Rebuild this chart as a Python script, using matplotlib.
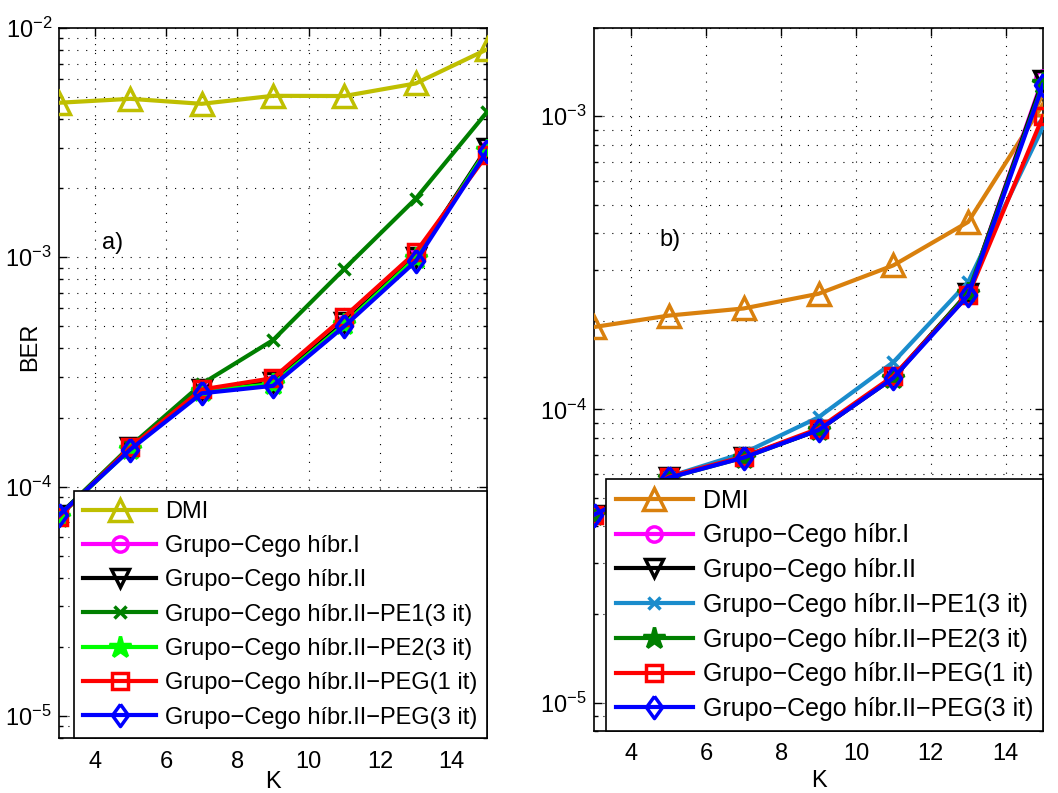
import numpy as np
import matplotlib
matplotlib.use("Agg")
import matplotlib.pyplot as plt
from matplotlib.ticker import LogLocator, NullFormatter, FixedLocator

plt.rcParams['font.family'] = ['Liberation Sans', 'DejaVu Sans']
plt.rcParams['mathtext.fontset'] = 'custom'
plt.rcParams['mathtext.rm'] = 'Liberation Sans'

K = [3, 5, 7, 9, 11, 13, 15]

labels = ['DMI', 'Grupo−Cego híbr.I', 'Grupo−Cego híbr.II',
          'Grupo−Cego híbr.II−PE1(3 it)', 'Grupo−Cego híbr.II−PE2(3 it)',
          'Grupo−Cego híbr.II−PEG(1 it)', 'Grupo−Cego híbr.II−PEG(3 it)']

# panel a)
a_dmi   = [4.72e-3, 4.91e-3, 4.67e-3, 5.06e-3, 5.05e-3, 5.73e-3, 8.07e-3]
a_hib1  = [7.5e-5, 1.47e-4, 2.60e-4, 2.80e-4, 5.10e-4, 1.00e-3, 2.95e-3]
a_hib2  = [7.5e-5, 1.48e-4, 2.65e-4, 2.85e-4, 5.20e-4, 1.00e-3, 3.00e-3]
a_pe1   = [7.5e-5, 1.50e-4, 2.80e-4, 4.35e-4, 8.90e-4, 1.80e-3, 4.30e-3]
a_pe2   = [7.4e-5, 1.46e-4, 2.60e-4, 2.80e-4, 5.10e-4, 9.90e-4, 2.95e-3]
a_peg1  = [7.4e-5, 1.48e-4, 2.65e-4, 2.97e-4, 5.50e-4, 1.05e-3, 2.80e-3]
a_peg3  = [7.5e-5, 1.45e-4, 2.55e-4, 2.75e-4, 5.00e-4, 9.60e-4, 2.90e-3]

# panel b)
b_dmi   = [1.91e-4, 2.09e-4, 2.21e-4, 2.48e-4, 3.10e-4, 4.36e-4, 1.10e-3]
b_hib1  = [4.37e-5, 5.90e-5, 6.90e-5, 8.50e-5, 1.28e-4, 2.50e-4, 1.35e-3]
b_hib2  = [4.37e-5, 5.90e-5, 6.90e-5, 8.50e-5, 1.29e-4, 2.50e-4, 1.33e-3]
b_pe1   = [4.37e-5, 5.90e-5, 7.10e-5, 9.40e-5, 1.45e-4, 2.72e-4, 9.20e-4]
b_pe2   = [4.35e-5, 5.85e-5, 6.85e-5, 8.50e-5, 1.28e-4, 2.50e-4, 1.30e-3]
b_peg1  = [4.37e-5, 5.90e-5, 6.90e-5, 8.60e-5, 1.30e-4, 2.45e-4, 1.00e-3]
b_peg3  = [4.37e-5, 5.85e-5, 6.85e-5, 8.50e-5, 1.28e-4, 2.45e-4, 1.28e-3]

diamond = [(0, 1), (0.72, 0), (0, -1), (-0.72, 0), (0, 1)]
markers = ['^', 'o', 'v', 'x', '*', 's', diamond]
colors_a = ['#BFBF00', '#FF00FF', '#000000', '#007F00', '#00FF00', '#FF0000', '#0000FF']
colors_b = ['#D9800D', '#FF00FF', '#000000', '#1A8CCC', '#007F00', '#FF0000', '#0000FF']
msizes = [16, 11, 13, 9, 16, 11, 16]

fig = plt.figure(figsize=(10.58, 7.93), dpi=100)
axa = fig.add_axes([59/1058, 1-738/793, (487-59)/1058, (738-28)/793])
axb = fig.add_axes([594/1058, 1-731/793, (1043-594)/1058, (731-28)/793])

FS = 17

def setup(ax, series, colors, ylim, lfs, lspace, hlen):
    for i, (y, lab) in enumerate(zip(series, labels)):
        mfc = colors[i] if markers[i] == '*' else 'none'
        ax.plot(K, y, color=colors[i], lw=3, marker=markers[i], ms=msizes[i],
                mfc=mfc, mec=colors[i], mew=2.5, label=lab, zorder=3)
    ax.set_yscale('log')
    ax.set_xlim(3, 15)
    ax.set_ylim(*ylim)
    ax.xaxis.set_major_locator(FixedLocator([4, 6, 8, 10, 12, 14]))
    ax.yaxis.set_major_locator(LogLocator(base=10, numticks=10))
    ax.yaxis.set_minor_locator(LogLocator(base=10, subs=np.arange(2, 10), numticks=10))
    ax.yaxis.set_minor_formatter(NullFormatter())
    ax.tick_params(which='both', direction='in', top=True, right=True,
                   labelsize=FS, width=1)
    ax.tick_params(axis='x', pad=9)
    ax.tick_params(axis='y', pad=5)
    ax.tick_params(which='major', length=6)
    ax.tick_params(which='minor', length=3)
    ax.grid(True, which='major', axis='x', color='k', ls=(0, (1, 7)), lw=0.8)
    ax.grid(True, which='both', axis='y', color='k', ls=(0, (1, 7)), lw=0.8)
    ax.set_axisbelow(True)
    for s in ax.spines.values():
        s.set_linewidth(1.2)
    leg = ax.legend(loc='lower right', bbox_to_anchor=(1, 0), fontsize=lfs,
                    fancybox=False, framealpha=1, edgecolor='k', handlelength=hlen,
                    handletextpad=0.38, labelspacing=lspace, borderpad=0.4,
                    borderaxespad=0)
    leg.get_frame().set_linewidth(1.2)

setup(axa, [a_dmi, a_hib1, a_hib2, a_pe1, a_pe2, a_peg1, a_peg3], colors_a,
      (8e-6, 1e-2), 17, 0.52, 3.1)
setup(axb, [b_dmi, b_hib1, b_hib2, b_pe1, b_pe2, b_peg1, b_peg3], colors_b,
      (8e-6, 2e-3), 18, 0.43, 3.1)

axa.set_xlabel('K', fontsize=FS, labelpad=-1)
axb.set_xlabel('K', fontsize=FS, labelpad=3)
axa.set_ylabel('BER', fontsize=FS)
axa.yaxis.set_label_coords((41 - 59) / 428, (738 - 347) / 710)
axa.text(4.2, 1.15e-3, 'a)', fontsize=FS, va='center', ha='left')
axb.text(4.75, 3.78e-4, 'b)', fontsize=FS, va='center', ha='left')

fig.savefig('out.png', dpi=100)
